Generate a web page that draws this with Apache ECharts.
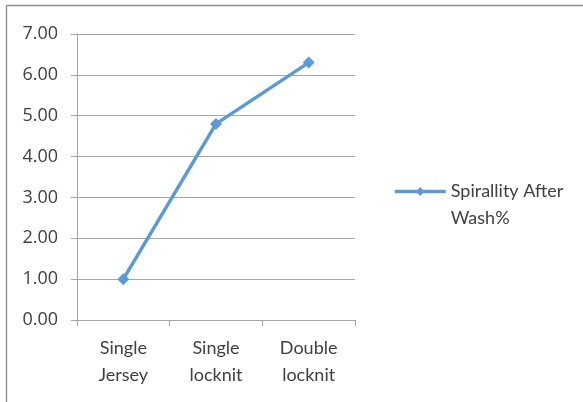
<!DOCTYPE html>
<html>
<head>
<meta charset="utf-8">
<script src="https://cdn.jsdelivr.net/npm/echarts@6/dist/echarts.min.js"></script>
<style>
  html, body { margin: 0; padding: 0; background: #ffffff; }
  #chart { width: 583px; height: 402px; }
</style>
</head>
<body>
<div id="chart"></div>
<script>
// Fabric types along the x axis
const categories = ['Single\nJersey', 'Single\nlocknit', 'Double\nlocknit'];
// Spirality after wash, percent
const spiralityAfterWash = [1.00, 4.80, 6.30];
// Value axis range and step
const yMin = 0;
const yMax = 7;
const yStep = 1;

const seriesName = 'Spirallity After Wash%';
const FONT = 'Lato, "Open Sans", sans-serif';
const NUM_FONT = '"Open Sans", Lato, sans-serif';
const BLUE = '#5B9BD5';
const GRID_GREY = '#A6A6A6';
const TEXT = '#404040';

const chart = echarts.init(document.getElementById('chart'), null, { renderer: 'canvas' });

chart.setOption({
  backgroundColor: '#ffffff',
  animation: false,
  graphic: [{
    type: 'rect',
    shape: { x: 6.5, y: 5.5, width: 640, height: 460 },
    style: { fill: 'none', stroke: '#8C8C8C', lineWidth: 1.3 },
    silent: true,
    z: -10
  }],
  grid: { left: 77, top: 34, right: 228, bottom: 82, containLabel: false },
  legend: {
    left: 393,
    top: 151,
    padding: 0,
    orient: 'vertical',
    itemWidth: 51,
    itemHeight: 11,
    itemGap: 0,
    data: [seriesName],
    lineStyle: { width: 3.5 },
    // a leading empty line centres the first text line on the legend line
    formatter: () => '\nSpirallity After\nWash%',
    textStyle: { fontFamily: FONT, fontSize: 18, color: TEXT, lineHeight: 27 }
  },
  xAxis: {
    type: 'category',
    data: categories,
    boundaryGap: true,
    axisLine: { show: true, lineStyle: { color: GRID_GREY, width: 1 } },
    axisTick: { show: true, length: 6, alignWithLabel: false, lineStyle: { color: GRID_GREY } },
    axisLabel: { fontFamily: FONT, fontSize: 18, color: TEXT, lineHeight: 27, margin: 15 },
    splitLine: { show: false }
  },
  yAxis: {
    type: 'value',
    min: yMin,
    max: yMax,
    interval: yStep,
    axisLine: { show: true, lineStyle: { color: GRID_GREY, width: 1 } },
    axisTick: { show: true, length: 6, lineStyle: { color: GRID_GREY } },
    axisLabel: {
      fontFamily: NUM_FONT, fontSize: 18, color: TEXT, margin: 19,
      formatter: v => v.toFixed(2)
    },
    splitLine: { show: true, lineStyle: { color: GRID_GREY, width: 1 } }
  },
  series: [{
    name: seriesName,
    type: 'line',
    data: spiralityAfterWash,
    color: BLUE,
    lineStyle: { color: BLUE, width: 3.5 },
    itemStyle: { color: BLUE },
    symbol: 'diamond',
    symbolSize: 12,
    showSymbol: true
  }]
});
</script>
</body>
</html>
